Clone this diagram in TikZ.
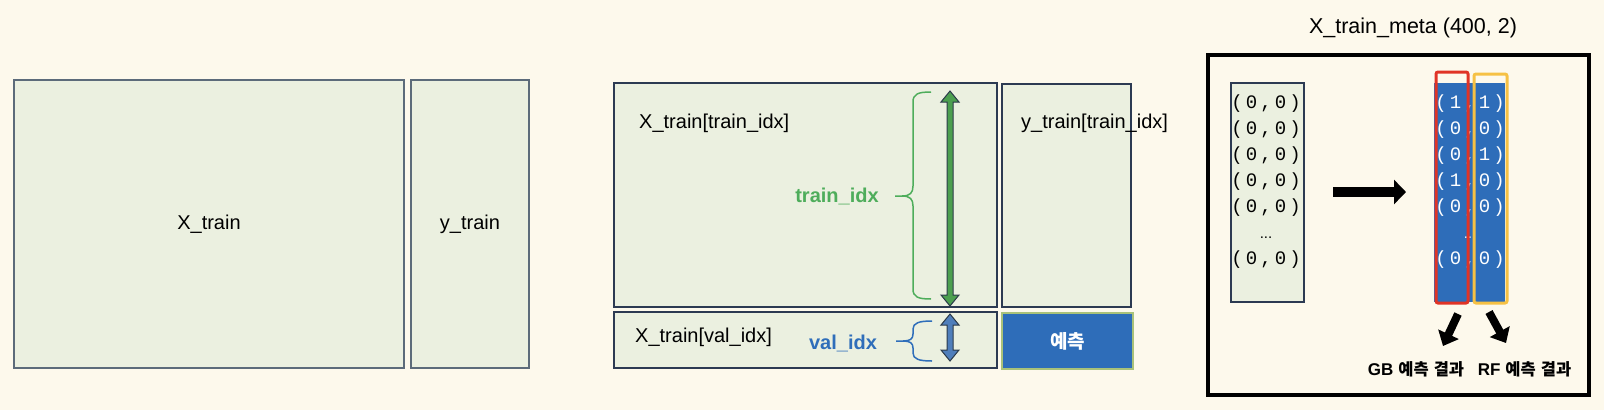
\documentclass[tikz,border=0pt]{standalone}
\usepackage{fontspec}
\setmainfont{Liberation Sans}
\setmonofont{Liberation Mono}
\newfontfamily\kr{Noto Sans CJK KR}
\usetikzlibrary{arrows.meta}
\definecolor{bg}{HTML}{FDF9EC}
\definecolor{boxfill}{HTML}{EBF0E0}
\definecolor{graybox}{HTML}{5C6B7A}
\definecolor{navybox}{HTML}{2C3A52}
\definecolor{gtext}{HTML}{4EAD5B}
\definecolor{garrow}{HTML}{4C9F50}
\definecolor{btext}{HTML}{2F6EBA}
\definecolor{barrow}{HTML}{4F7EBB}
\definecolor{predblue}{HTML}{2E6DB9}
\definecolor{predline}{HTML}{A9C27A}
\definecolor{redbox}{HTML}{E03426}
\definecolor{orgbox}{HTML}{F6C144}
\definecolor{arrline}{HTML}{2B3A4A}
\newcommand\tup[2]{\makebox[14.5pt]{(}\makebox[14.5pt]{#1}\makebox[14.5pt]{,}\makebox[14.5pt]{#2}\makebox[14.5pt]{)}}
\newcommand\dblarrow[4]{%
  \filldraw[fill=#4, draw=arrline, line width=1pt, line join=miter]
    ({#1-3},{#2+11}) -- ({#1-9},{#2+11}) -- (#1,#2) -- ({#1+9},{#2+11}) -- ({#1+3},{#2+11})
    -- ({#1+3},{#3-11}) -- ({#1+9},{#3-11}) -- (#1,#3) -- ({#1-9},{#3-11}) -- ({#1-3},{#3-11}) -- cycle;}
\newcommand\reslbl[1]{{\bfseries\fontsize{17}{20}\selectfont #1}\hspace{5pt}{\kr\bfseries\fontsize{16.5}{20}\selectfont 예측\hspace{5pt}결과}}
\tikzset{
  graydata/.style={draw=graybox, fill=boxfill, line width=1.3pt, inner sep=0pt},
  navydata/.style={draw=navybox, fill=boxfill, line width=1.1pt, inner sep=0pt},
  lbl/.style={font=\fontsize{20}{24}\selectfont, text=black, inner sep=0pt},
  mono/.style={font=\ttfamily\fontsize{19}{22}\selectfont, inner sep=0pt},
  fatarrow/.style={line width=10pt, -{Triangle[length=12pt,width=24pt]}},
  downarrow/.style={line width=8pt, -{Triangle[length=13pt,width=22pt]}},
  result/.style={inner sep=0pt},
}
\begin{document}
\begin{tikzpicture}[x=1pt,y=-1pt]
\fill[bg] (0,0) rectangle (1604,410);
\useasboundingbox (0,0) rectangle (1604,410);

% left pair
\node[graydata, minimum width=390, minimum height=288] (xtrain) at (209,224) {};
\node[graydata, minimum width=118, minimum height=288] (ytrain) at (470,224) {};
\node[lbl] (xtrainlbl) at (xtrain.center) {X\_train};
\node[lbl] (ytrainlbl) at (ytrain.center) {y\_train};

% middle split
\node[navydata, minimum width=383, minimum height=224] (xtr) at (805.5,195) {};
\node[navydata, minimum width=383, minimum height=56] (xval) at (805.5,340) {};
\node[navydata, minimum width=129, minimum height=223] (ytr) at (1066.5,195.5) {};
\node[draw=predline, fill=predblue, line width=1.3pt, minimum width=131, minimum height=56, inner sep=0pt,
      font=\kr\bfseries\fontsize{19}{22}\selectfont, text=white] (pred) at (1067.5,341) {예측};
\node[lbl, anchor=west] (xtrlbl) at (639,123) {X\_train[train\_idx]};
\node[lbl, anchor=west] (ytrlbl) at (1021,123) {y\_train[train\_idx]};
\node[lbl, anchor=west] (xvallbl) at (635,337) {X\_train[val\_idx]};
\node[lbl, font=\bfseries\fontsize{20}{24}\selectfont, text=gtext] (trainidx) at (837,196) {train\_idx};
\node[lbl, font=\bfseries\fontsize{20}{24}\selectfont, text=btext] (validx) at (843,343) {val\_idx};

% braces
\draw[gtext, line width=1.5pt]
  (931,92) .. controls (918,92) and (913,94) .. (913,102) -- (913,186)
  .. controls (913,193) and (910,196) .. (902,196) -- (895,196)
  (902,196) .. controls (910,196) and (913,199) .. (913,206) -- (913,289)
  .. controls (913,297) and (918,299) .. (931,299);
\draw[btext, line width=1.5pt]
  (932,321) .. controls (919,321) and (913,323) .. (913,329) -- (913,334)
  .. controls (913,339) and (910,341) .. (903,341) -- (896,341)
  (903,341) .. controls (910,341) and (913,343) .. (913,348) -- (913,353)
  .. controls (913,359) and (919,361) .. (932,361);

% double arrows
\dblarrow{950}{91}{306}{garrow}
\dblarrow{950}{314}{361}{barrow}

% right panel
\node[font=\fontsize{21.5}{26}\selectfont, inner sep=0pt] (metatitle) at (1413,28) {X\_train\_meta (400, 2)};
\node[draw=black, line width=4pt, minimum width=381, minimum height=340, inner sep=0pt] (frame) at (1398.5,225) {};
\node[draw=navybox, fill=boxfill, line width=1.1pt, minimum width=73, minimum height=219, inner sep=0pt] (lcol) at (1267.5,192.5) {};
\node[fill=predblue, minimum width=71, minimum height=219, inner sep=0pt] (bcol) at (1469.5,192.5) {};

\foreach \i in {0,...,4}
  \node[mono, anchor=base] (L\i) at (1266,{108+26*\i}) {\tup{0}{0}};
\node[font=\fontsize{15}{16}\selectfont, inner sep=0pt, anchor=base] (Ldots) at (1266,238) {...};
\node[mono, anchor=base] (Llast) at (1266,264) {\tup{0}{0}};

\foreach \a/\b [count=\i from 0] in {1/1,0/0,0/1,1/0,0/0}
  \node[mono, text=white, anchor=base] (R\i) at (1470,{108+26*\i}) {\tup{\a}{\b}};
\node[font=\fontsize{15}{16}\selectfont, text=white, inner sep=0pt, anchor=base] (Rdots) at (1470,238) {...};
\node[mono, text=white, anchor=base] (Rlast) at (1470,264) {\tup{0}{0}};

\node[draw=redbox, line width=3pt, rounded corners=2pt, minimum width=32, minimum height=231, inner sep=0pt] (gbcol) at (1452,187.5) {};
\node[draw=orgbox, line width=3pt, rounded corners=2pt, minimum width=33, minimum height=229, inner sep=0pt] (rfcol) at (1490.5,188.5) {};

% arrows
\coordinate (fatA) at (1333,192);
\coordinate (fatB) at (1406,192);
\draw[fatarrow] (fatA) -- (fatB);

\node[result] (gbres) at (1416,369) {\reslbl{GB}};
\node[result] (rfres) at (1524.5,369) {\reslbl{RF}};
\coordinate (gbA) at (1458,314);
\coordinate (gbB) at (1443,346);
\coordinate (rfA) at (1489,312);
\coordinate (rfB) at (1506,343);
\draw[downarrow] (gbA) -- (gbB);
\draw[downarrow] (rfA) -- (rfB);
\end{tikzpicture}
\end{document}
